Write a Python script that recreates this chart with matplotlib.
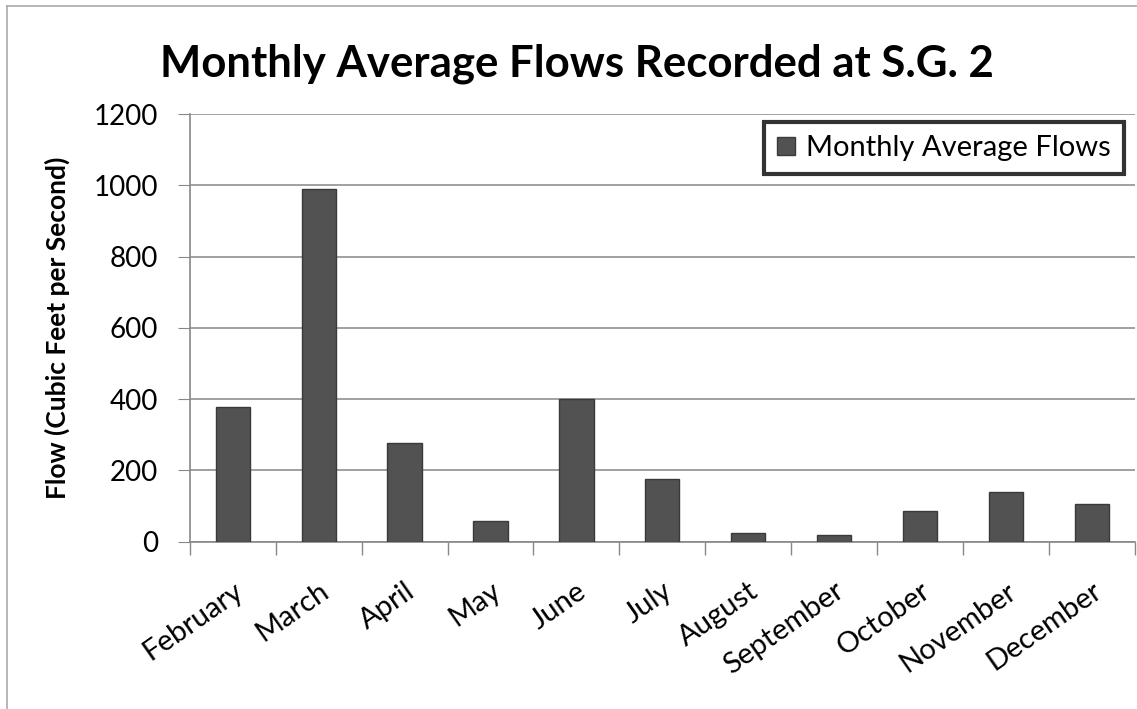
import matplotlib
matplotlib.use("Agg")
import matplotlib.pyplot as plt
import numpy as np
from matplotlib.lines import Line2D

# monthly average flows at S.G. 2 (cfs)
months = ["February", "March", "April", "May", "June", "July",
          "August", "September", "October", "November", "December"]
flows = [379, 989, 276, 59, 400, 177, 24, 19, 87, 140, 105]

plt.rcParams['font.family'] = ['Lato', 'DejaVu Sans']

fig = plt.figure(figsize=(11.37, 7.09), dpi=100)
ax = fig.add_axes([0.167, 0.236, 0.831, 0.603])

x = np.arange(len(months))
ax.bar(x, flows, width=0.4, color='#525252', edgecolor='#3a3a3a', linewidth=1,
       label="Monthly Average Flows", zorder=3)

ax.set_ylim(0, 1200)
ax.set_yticks(range(0, 1201, 200))
ax.set_xlim(-0.5, len(months) - 0.5)
ax.set_xticks(x)
ax.set_xticklabels(months, rotation=35, ha='right', rotation_mode='anchor', fontsize=21)
ax.tick_params(axis='x', length=0, pad=26)
ax.set_xticks(np.arange(-0.5, len(months)), minor=True)
ax.tick_params(axis='x', which='minor', length=9, color='#888888', width=1)
ax.tick_params(axis='y', labelsize=20, length=9, color='#888888', pad=14)

ax.grid(axis='y', color='#999999', linewidth=1.3, zorder=0)
for s in ['top', 'right']:
    ax.spines[s].set_visible(False)
for s in ['left', 'bottom']:
    ax.spines[s].set_color('#888888')
    ax.spines[s].set_linewidth(1.2)

ax.set_ylabel("Flow (Cubic Feet per Second)", fontsize=19, fontweight='bold', labelpad=17)

fig.text(0.507, 0.910, "Monthly Average Flows Recorded at S.G. 2", fontsize=31.5,
         fontweight='bold', ha='center', va='center')

leg = ax.legend(loc='upper right', fontsize=21, frameon=True, fancybox=False,
                handlelength=0.6, handleheight=0.6, handletextpad=0.4,
                borderpad=0.45, borderaxespad=0.2, bbox_to_anchor=(0.995, 0.995))
leg.get_frame().set_edgecolor('black')
leg.get_frame().set_linewidth(3)

# thin outer border like the original chart area
fig.add_artist(Line2D([0.006, 0.006], [0, 0.992], color='#aaaaaa', linewidth=1.2))
fig.add_artist(Line2D([0.006, 1.0], [0.992, 0.992], color='#aaaaaa', linewidth=1.2))

fig.savefig("out.png", dpi=100)
